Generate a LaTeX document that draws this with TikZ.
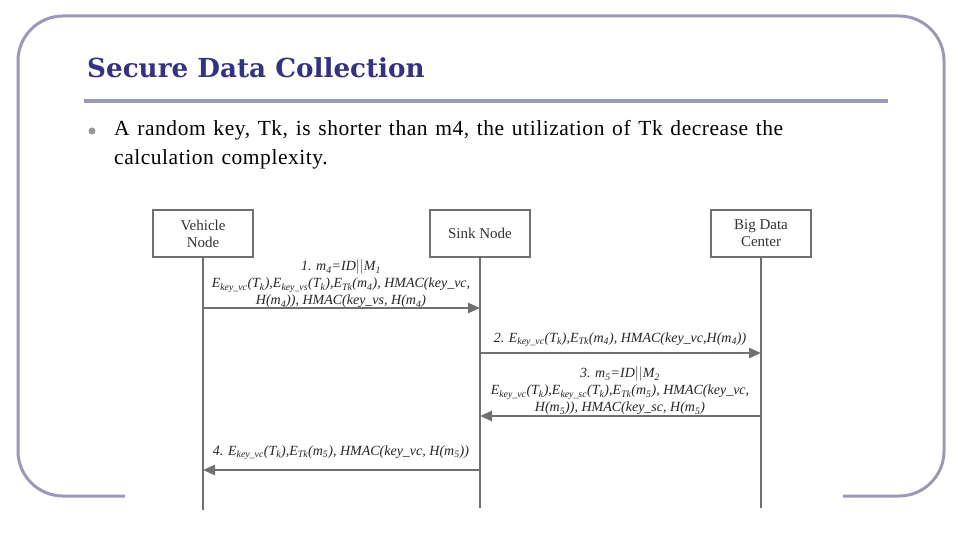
\documentclass[tikz,border=0pt]{standalone}
\usepackage{fontspec}
\setmainfont{Liberation Serif}
\newfontfamily\titlefont{DejaVu Serif}
\newfontfamily\bodyfont[LetterSpace=2.5,WordSpace=1.3]{Liberation Serif}
\usetikzlibrary{arrows.meta}
\definecolor{frame}{HTML}{9A9AB8}
\definecolor{titleblue}{HTML}{333380}
\definecolor{seq}{HTML}{707070}
\newcommand{\sbs}[1]{\textsubscript{#1}}
\tikzset{
  actor/.style={draw=seq, line width=1.2pt, minimum width=100pt, minimum height=47pt, align=center, font=\fontsize{15}{17}\selectfont, text=black!80, inner sep=0pt},
  life/.style={draw=seq, line width=2.5pt},
  msg/.style={draw=seq, line width=2.5pt, -{Triangle[length=12pt,width=10pt]}},
  lab/.style={font=\fontsize{14}{17}\selectfont\itshape, align=center, inner sep=0pt, text=black!85}
}
\begin{document}
\begin{tikzpicture}[x=1pt,y=-1pt]
\useasboundingbox (0,0) rectangle (960,540);
\draw[frame, line width=3pt, rounded corners=45pt] (18,16) rectangle (944,496);
\fill[white] (125,192) rectangle (843,522);
\node[anchor=west, font=\titlefont\fontsize{26.2}{28}\selectfont\bfseries, text=titleblue, inner sep=0pt] (title) at (87,68) {Secure Data Collection};
\draw[frame, line width=4pt] (84,101) -- (888,101);
\fill[gray!80] (92,131) circle (3.5pt);
\node[anchor=north west, align=left, font=\bodyfont\fontsize{21.5}{29}\selectfont, inner sep=0pt] (txt) at (114,120) {A random key, Tk, is shorter than m4, the utilization of Tk decrease the\\calculation complexity.};
\node[actor] (v) at (203,233.5) {Vehicle\\Node};
\node[actor] (s) at (480,233.5) {Sink Node};
\node[actor] (b) at (761,233.5) {Big Data\\Center};
\coordinate (ve) at (203,510);
\coordinate (se) at (480,508);
\coordinate (be) at (761,508);
\draw[life] (v) -- (ve);
\draw[life] (s) -- (se);
\draw[life] (b) -- (be);
\coordinate (v1) at (203,308); \coordinate (s1) at (480,308);
\coordinate (s2) at (480,353); \coordinate (b2) at (761,353);
\coordinate (b3) at (761,416); \coordinate (s3) at (480,416);
\coordinate (s4) at (480,470); \coordinate (v4) at (203,470);
\draw[msg] (v1) -- (s1);
\draw[msg] (s2) -- (b2);
\draw[msg] (b3) -- (s3);
\draw[msg] (s4) -- (v4);
\node[lab] (l1) at (341,284) {1. m\sbs{4}=ID$||$M\sbs{1}\\E\sbs{key\_vc}(T\sbs{k}),E\sbs{key\_vs}(T\sbs{k}),E\sbs{Tk}(m\sbs{4}), HMAC(key\_vc,\\H(m\sbs{4})), HMAC(key\_vs, H(m\sbs{4})};
\node[lab] (l2) at (620,340) {2. E\sbs{key\_vc}(T\sbs{k}),E\sbs{Tk}(m\sbs{4}), HMAC(key\_vc,H(m\sbs{4}))};
\node[lab] (l3) at (620,391) {3. m\sbs{5}=ID$||$M\sbs{2}\\E\sbs{key\_vc}(T\sbs{k}),E\sbs{key\_sc}(T\sbs{k}),E\sbs{Tk}(m\sbs{5}), HMAC(key\_vc,\\H(m\sbs{5})), HMAC(key\_sc, H(m\sbs{5})};
\node[lab] (l4) at (341,453) {4. E\sbs{key\_vc}(T\sbs{k}),E\sbs{Tk}(m\sbs{5}), HMAC(key\_vc, H(m\sbs{5}))};
\end{tikzpicture}
\end{document}
